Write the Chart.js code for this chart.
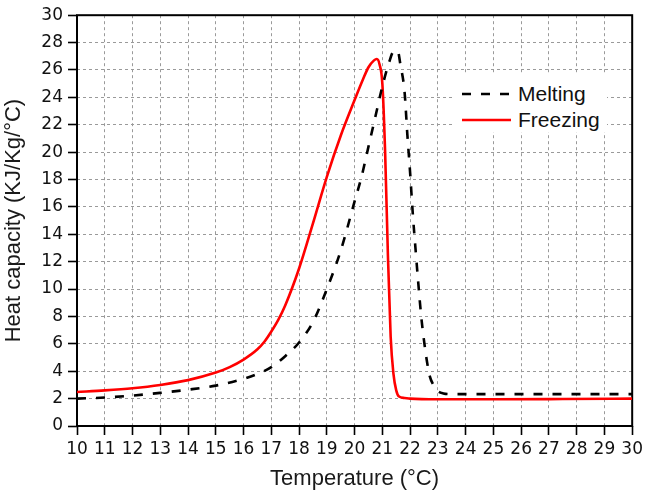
<!DOCTYPE html>
<html>
<head>
<meta charset="utf-8">
<script src="https://cdn.jsdelivr.net/npm/chart.js@4/dist/chart.umd.min.js"></script>
<style>
  body { margin: 0; background: #fff; }
  #wrap { position: relative; width: 647px; height: 498px; }
  #legend {
    position: absolute; left: 453px; top: 74px; width: 154px; height: 58px;
    background: #fff; font-family: "Liberation Sans", Arial, sans-serif;
    font-size: 21px; color: #111;
  }
  #legend svg { position: absolute; left: 0; top: 0; }
  #legend span { position: absolute; left: 65px; line-height: 24px; }
</style>
</head>
<body>
<div id="wrap">
  <canvas id="myChart" width="647" height="498"></canvas>
  <div id="legend">
    <svg width="154" height="58">
      <line x1="9" y1="20" x2="58" y2="20" stroke="#000" stroke-width="2.6" stroke-dasharray="9,10"></line>
      <line x1="9" y1="46" x2="58" y2="46" stroke="#ff0000" stroke-width="2.6"></line>
    </svg>
    <span style="top: 8px;">Melting</span>
    <span style="top: 34px;">Freezing</span>
  </div>
</div>
<script>
// melting curve (dashed)
const meltTemp = [10, 11, 12, 13, 14, 15, 16, 16.5, 17, 17.5, 18, 18.5, 19, 19.5, 20, 20.25, 20.5, 20.75, 21, 21.25, 21.4, 21.55, 21.65, 21.8, 21.9, 22, 22.1, 22.2, 22.3, 22.4, 22.5, 22.6, 22.7, 22.85, 23, 23.2, 23.5, 25, 27.5, 30];
const meltCp = [2.0, 2.08, 2.22, 2.42, 2.65, 2.95, 3.45, 3.8, 4.3, 5.1, 6.1, 7.6, 10.0, 12.8, 16.4, 18.2, 20.4, 22.6, 24.8, 26.6, 27.35, 27.4, 26.4, 24.4, 21.3, 18.5, 15.4, 12.8, 10.3, 8.0, 6.25, 4.8, 3.7, 2.95, 2.55, 2.38, 2.33, 2.33, 2.33, 2.33];

// freezing curve (solid red)
const freezeTemp = [10, 11, 12, 13, 14, 15, 15.5, 16, 16.5, 16.75, 17, 17.25, 17.5, 18, 18.5, 19, 19.5, 20, 20.3, 20.5, 20.7, 20.8, 20.9, 21.0, 21.1, 21.2, 21.3, 21.4, 21.5, 21.6, 21.8, 22, 23, 25, 27.5, 30];
const freezeCp = [2.48, 2.6, 2.76, 3.0, 3.35, 3.9, 4.3, 4.85, 5.6, 6.15, 6.9, 7.75, 8.8, 11.5, 14.8, 18.2, 21.2, 23.8, 25.3, 26.2, 26.7, 26.8, 26.4, 25.0, 20.0, 12.5, 6.5, 3.8, 2.6, 2.15, 2.05, 2.0, 1.95, 1.95, 1.97, 2.0];

const xTicks = { min: 10, max: 30, step: 1 };
const yTicks = { min: 0, max: 30, step: 2 };

const toPoints = (xs, ys) => xs.map((x, i) => ({ x: x, y: ys[i] }));

// black box round the plot area
const frame = {
  id: "frame",
  beforeDatasetsDraw(chart) {
    const a = chart.chartArea;
    const ctx = chart.ctx;
    ctx.save();
    ctx.strokeStyle = "#000";
    ctx.lineWidth = 2;
    ctx.strokeRect(a.left, a.top, a.right - a.left, a.bottom - a.top);
    ctx.restore();
  },
};

const font = { family: "'Liberation Sans', Arial, sans-serif" };
const tickFont = { family: "'DejaVu Sans', sans-serif", size: 17 };

const ctx = document.getElementById("myChart");
var myChart = new Chart(ctx, {
  type: "line",
  data: {
    datasets: [
      {
        label: "Melting",
        data: toPoints(meltTemp, meltCp),
        borderColor: "#000",
        borderWidth: 2.6,
        borderDash: [9, 10],
        pointRadius: 0,
        cubicInterpolationMode: "monotone",
      },
      {
        label: "Freezing",
        data: toPoints(freezeTemp, freezeCp),
        borderColor: "#ff0000",
        borderWidth: 2.6,
        pointRadius: 0,
        cubicInterpolationMode: "monotone",
      },
    ],
  },
  options: {
    responsive: false,
    devicePixelRatio: 1,
    animation: false,
    layout: { padding: { top: 14, right: 10, left: 0, bottom: 0 } },
    plugins: { legend: { display: false }, tooltip: { enabled: false } },
    scales: {
      x: {
        type: "linear",
        min: xTicks.min,
        max: xTicks.max,
        afterFit: (s) => { s.height = 72; },
        ticks: {
          stepSize: xTicks.step,
          autoSkip: false,
          maxRotation: 0,
          padding: 4,
          color: "#111",
          font: tickFont,
        },
        grid: { color: "#9a9a9a", lineWidth: 1, tickLength: 9, tickColor: "#000", tickWidth: 1.6, tickBorderDash: [] },
        border: { display: false, dash: [3, 3] },
        title: {
          display: true,
          text: "Temperature (°C)",
          color: "#1a1a1a",
          font: { ...font, size: 22 },
          padding: { top: 0, bottom: 6 },
        },
      },
      y: {
        min: yTicks.min,
        max: yTicks.max,
        afterFit: (s) => { s.width = 77; },
        ticks: {
          stepSize: yTicks.step,
          padding: 5,
          color: "#111",
          font: tickFont,
        },
        grid: { color: "#9a9a9a", lineWidth: 1, tickLength: 9, tickColor: "#000", tickWidth: 1.6, tickBorderDash: [] },
        border: { display: false, dash: [3, 3] },
        title: {
          display: true,
          text: "Heat capacity (KJ/Kg/°C)",
          color: "#1a1a1a",
          font: { ...font, size: 22 },
          padding: { top: 1, bottom: 0 },
        },
      },
    },
  },
  plugins: [frame],
});
</script>
</body>
</html>
